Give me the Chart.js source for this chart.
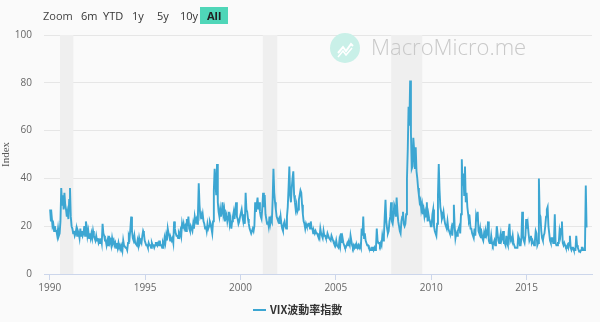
<!DOCTYPE html>
<html>
<head>
<meta charset="utf-8">
<script src="https://cdn.jsdelivr.net/npm/chart.js@4.4.1/dist/chart.umd.min.js"></script>
<style>
body{margin:0;background:#fafafa;font-family:"Open Sans",sans-serif}
#wrap{position:relative;width:600px;height:322px;overflow:hidden}
#chart{position:absolute;left:0;top:0}
.btn{position:absolute;top:7px;height:17px;line-height:17px;font-size:11px;color:#333}
#all{background:#4fd6b8;font-weight:bold;padding:0 7px;left:200px;color:#222}
#mark{position:absolute;left:330px;top:33px;height:30px}
#logo{position:absolute;left:0;top:0;width:30px;height:30px;border-radius:15px;background:#c9f0e8}
#marktext{position:absolute;left:41px;top:-2px;font-size:22px;color:#c9c9c9;white-space:nowrap;font-weight:300}
#legend{position:absolute;left:253px;top:301px;font-size:11px;color:#333;font-family:"Noto Sans CJK TC",sans-serif;font-weight:bold;white-space:nowrap}
#legend span{display:inline-block;width:13px;height:2px;background:#3ca6d2;vertical-align:middle;margin-right:4px;margin-top:-2px}
</style>
</head>
<body>
<div id="wrap">
<canvas id="chart" width="600" height="322"></canvas>
<div id="mark"><div id="logo"><svg width="30" height="30"><polyline points="8,20 13,14 16,18 21,11 23,13" fill="none" stroke="#fff" stroke-width="2"/><polyline points="8,24 13,18 16,22 22,15" fill="none" stroke="#fff" stroke-width="1.5"/></svg></div><div id="marktext">MacroMicro.me</div></div>
<div class="btn" style="left:43px;color:#444">Zoom</div>
<div class="btn" style="left:81px">6m</div>
<div class="btn" style="left:103px">YTD</div>
<div class="btn" style="left:132px">1y</div>
<div class="btn" style="left:157px">5y</div>
<div class="btn" style="left:180px">10y</div>
<div class="btn" id="all">All</div>
<div id="legend"><span></span>VIX波動率指數</div>
</div>
<script>
// two readings per month (first half, second half)
const v1990 = [27,22, 24,20, 21,18, 20,18, 18,16, 19,16, 17,22, 36,29, 33,27, 34,29, 27,24, 26,23]
const v1991 = [31,36, 24,20, 19,17, 18,16, 17,19, 16,18, 17,15, 19,16, 18,16, 17,20, 16,22, 20,16]
const v1992 = [18,15, 17,15, 17,15, 18,16, 15,14, 16,14, 15,13, 14,13, 15,13, 21,17, 16,14, 14,12]
const v1993 = [14,12, 16,13, 14,12, 15,13, 14,12, 13,11, 13,11, 13,11, 12,11, 12,10, 14,12, 12,11]
const v1994 = [11,10, 13,16, 15,19, 24,18, 15,14, 16,13, 13,12, 14,12, 15,13, 14,13, 16,18, 17,14]
const v1995 = [13,12, 12,11, 13,12, 12,11, 13,12, 12,11, 12,13, 13,12, 13,12, 14,12, 12,11, 13,12]
const v1996 = [15,13, 16,14, 19,17, 16,14, 15,14, 15,13, 22,19, 17,16, 16,15, 17,16, 18,16, 21,19]
const v1997 = [21,19, 20,18, 23,20, 24,19, 18,20, 19,18, 21,19, 24,22, 23,21, 25,38, 29,24, 25,23]
const v1998 = [25,22, 21,19, 20,18, 21,19, 20,22, 21,19, 17,22, 35,44, 38,33, 46,30, 26,24, 27,24]
const v1999 = [26,30, 25,27, 22,24, 25,22, 24,26, 21,23, 19,22, 24,26, 23,27, 30,24, 23,21, 22,24]
const v2000 = [24,27, 24,22, 25,21, 34,27, 26,23, 21,19, 18,17, 17,19, 18,20, 30,26, 29,32, 27,30]
const v2001 = [26,24, 23,28, 34,28, 33,25, 23,21, 22,20, 24,21, 23,22, 31,44, 34,30, 27,24, 23,22]
const v2002 = [23,21, 24,21, 19,18, 21,22, 20,19, 24,28, 36,45, 33,30, 36,40, 43,33, 30,27, 29,26]
const v2003 = [27,31, 33,35, 34,29, 25,22, 21,19, 21,20, 20,21, 21,19, 22,19, 19,17, 18,17, 18,17]
const v2004 = [17,16, 16,15, 19,17, 17,15, 18,16, 16,15, 15,17, 16,15, 15,14, 16,15, 14,13, 13,12]
const v2005 = [14,12, 12,11, 14,12, 17,13, 15,13, 12,11, 11,12, 13,12, 13,12, 16,14, 12,11, 12,11]
const v2006 = [12,11, 12,11, 12,11, 12,11, 19,16, 24,15, 17,14, 13,12, 12,11, 11,10, 10,11, 11,10]
const v2007 = [11,10, 11,19, 14,13, 13,12, 13,12, 16,14, 16,24, 31,22, 19,17, 18,22, 24,30, 22,21]
const v2008 = [24,29, 28,24, 32,26, 22,20, 18,17, 22,24, 26,21, 20,21, 25,40, 52,70, 62,81, 59,44]
const v2009 = [45,57, 52,44, 53,43, 40,36, 33,30, 31,27, 29,25, 27,24, 26,24, 30,22, 25,23, 22,20]
const v2010 = [20,25, 27,20, 18,17, 16,21, 33,46, 35,28, 26,23, 24,26, 23,21, 21,19, 22,19, 18,17]
const v2011 = [17,19, 16,21, 29,20, 15,17, 16,18, 19,20, 17,25, 48,37, 42,33, 45,30, 34,28, 25,22]
const v2012 = [23,19, 19,17, 17,15, 19,16, 24,22, 26,18, 17,19, 15,17, 15,14, 17,15, 18,16, 17,22]
const v2013 = [14,13, 13,16, 13,12, 13,14, 12,14, 20,17, 14,13, 15,17, 14,15, 18,13, 13,12, 16,13]
const v2014 = [12,18, 21,14, 15,14, 16,13, 12,11, 11,11, 11,16, 15,12, 12,15, 26,16, 14,13, 16,23]
const v2015 = [19,21, 17,14, 15,16, 13,14, 13,12, 14,18, 17,12, 13,40, 25,24, 18,15, 14,16, 17,20]
const v2016 = [24,27, 28,20, 17,14, 13,15, 15,13, 14,25, 13,12, 12,13, 13,18, 16,19, 22,13, 12,13]
const v2017 = [12,11, 11,12, 11,13, 16,11, 10,11, 11,10, 10,10, 16,12, 11,10, 9.5,9.2, 10,11, 11,10]
const v2018 = [10,11.5, 37,19.5]

const vixYears = [v1990,v1991,v1992,v1993,v1994,v1995,v1996,v1997,v1998,v1999,v2000,v2001,v2002,v2003,
  v2004,v2005,v2006,v2007,v2008,v2009,v2010,v2011,v2012,v2013,v2014,v2015,v2016,v2017,v2018]
const firstYear = 1990
const recessions = [[1990.54,1991.24],[2001.17,2001.93],[2007.9,2009.53]]
const seriesName = "VIX波動率指數"

let points = []
vixYears.forEach((arr, yi) => {
  arr.forEach((v, i) => {
    points.push({x: firstYear + yi + (i + 0.5) / 24, y: v})
  })
})

const bands = {
  id: "bands",
  beforeDatasetsDraw(chart){
    const {ctx, chartArea, scales} = chart
    ctx.save()
    ctx.fillStyle = "#efefef"
    for (let r of recessions){
      const x1 = scales.x.getPixelForValue(r[0])
      const x2 = scales.x.getPixelForValue(r[1])
      ctx.fillRect(x1, chartArea.top, x2 - x1, chartArea.bottom - chartArea.top)
    }
    ctx.restore()
  }
}

new Chart(document.getElementById("chart"), {
  type: "line",
  data: {
    datasets: [{
      label: seriesName,
      data: points,
      borderColor: "#3ca6d2",
      borderWidth: 1.9,
      pointRadius: 0,
      fill: false,
      tension: 0
    }]
  },
  options: {
    responsive: false,
    animation: false,
    events: [],
    layout: {padding: {top: 35, right: 8, bottom: 26, left: 0}},
    plugins: {legend: {display: false}, tooltip: {enabled: false}},
    scales: {
      x: {
        type: "linear",
        min: 1989.7,
        max: 2018.43,
        border: {color: "#ccd6eb"},
        grid: {drawOnChartArea: false, color: "#ccd6eb", tickLength: 6},
        ticks: {
          stepSize: 5,
          includeBounds: false,
          padding: 2,
          color: "#666",
          font: {family: "Open Sans", size: 10},
          callback: v => String(v)
        },
        afterFit: s => { s.height = 22 }
      },
      y: {
        min: 0,
        max: 100,
        border: {display: false},
        grid: {color: "#e6e6e6", drawTicks: false},
        ticks: {stepSize: 20, padding: 12, color: "#666", font: {family: "Open Sans", size: 10}},
        title: {display: true, text: "Index", color: "#555", padding: 0, font: {family: "Liberation Serif", size: 11}},
        afterFit: s => { s.width = 44 }
      }
    }
  },
  plugins: [bands]
})
</script>
</body>
</html>
